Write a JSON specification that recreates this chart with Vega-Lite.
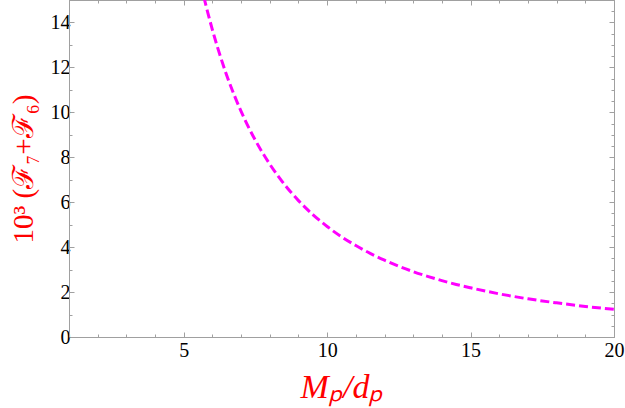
{
  "$schema": "https://vega.github.io/schema/vega-lite/v6.json",
  "width": 545,
  "height": 337,
  "autosize": {"type": "none"},
  "padding": {"left": 69, "top": 0, "right": 11, "bottom": 71},
  "background": "white",
  "config": {
    "view": {"stroke": "#a0a0a0", "strokeWidth": 1},
    "style": {
      "guide-label": {"font": "Liberation Serif", "fontSize": 20, "fill": "black"},
      "guide-title": {"font": "Liberation Serif", "fill": "red", "fontWeight": "normal"}
    },
    "axis": {
      "domainColor": "#a0a0a0",
      "tickColor": "#a0a0a0",
      "grid": false,
      "labelFont": "Liberation Serif, serif",
      "labelFontSize": 20,
      "labelColor": "black",
      "titleFont": "Liberation Serif",
      "titleColor": "red",
      "titleFontWeight": "normal"
    }
  },
  "data": {
    "values": [
      {"x": 5.70, "y": 15.14},
      {"x": 5.80, "y": 14.63},
      {"x": 6.00, "y": 13.67},
      {"x": 6.25, "y": 12.60},
      {"x": 6.50, "y": 11.64},
      {"x": 6.75, "y": 10.80},
      {"x": 7.00, "y": 10.04},
      {"x": 7.50, "y": 8.75},
      {"x": 8.00, "y": 7.69},
      {"x": 8.50, "y": 6.81},
      {"x": 9.00, "y": 6.07},
      {"x": 9.50, "y": 5.45},
      {"x": 10.0, "y": 4.92},
      {"x": 10.5, "y": 4.46},
      {"x": 11.0, "y": 4.07},
      {"x": 11.5, "y": 3.72},
      {"x": 12.0, "y": 3.42},
      {"x": 12.5, "y": 3.15},
      {"x": 13.0, "y": 2.91},
      {"x": 13.5, "y": 2.70},
      {"x": 14.0, "y": 2.51},
      {"x": 14.5, "y": 2.34},
      {"x": 15.0, "y": 2.19},
      {"x": 16.0, "y": 1.92},
      {"x": 17.0, "y": 1.70},
      {"x": 18.0, "y": 1.52},
      {"x": 19.0, "y": 1.36},
      {"x": 20.0, "y": 1.23}
    ]
  },
  "layer": [
    {
      "mark": {"type": "line", "color": "#ff00ff", "strokeWidth": 3, "strokeDash": [9, 4], "clip": true, "interpolate": "monotone"},
      "encoding": {
        "x": {
          "field": "x", "type": "quantitative",
          "scale": {"domain": [1, 20], "nice": false, "zero": false},
          "axis": {
            "orient": "bottom",
            "title": "Mₚ/dₚ",
            "titleFont": "Liberation Serif",
            "titleFontSize": 34,
            "titleFontStyle": "italic",
            "titlePadding": 8,
            "values": [1,2,3,4,5,6,7,8,9,10,11,12,13,14,15,16,17,18,19,20],
            "format": "d",
            "labelExpr": "datum.value % 5 == 0 ? datum.label : ''",
            "labelFont": "Liberation Serif, serif",
            "labelFontSize": 20,
            "labelFlush": false,
            "labelOverlap": false,
            "labelPadding": 8,
            "tickSize": {"condition": {"test": "datum.value % 5 == 0", "value": -5}, "value": -3}
          }
        },
        "y": {
          "field": "y", "type": "quantitative",
          "scale": {"domain": [0, 15], "nice": false},
          "axis": {
            "orient": "left",
            "title": "10³ (ℱ₇+ℱ₆)",
            "titleFont": "Liberation Serif",
            "titleFontSize": 29,
            "titlePadding": 12,
            "values": [0,0.5,1,1.5,2,2.5,3,3.5,4,4.5,5,5.5,6,6.5,7,7.5,8,8.5,9,9.5,10,10.5,11,11.5,12,12.5,13,13.5,14,14.5,15],
            "format": "d",
            "labelExpr": "datum.value % 2 == 0 ? datum.label : ''",
            "labelFont": "Liberation Serif, serif",
            "labelFontSize": 20,
            "labelOverlap": false,
            "labelBaseline": "middle",
            "labelPadding": 4,
            "tickSize": {"condition": {"test": "datum.value % 2 == 0", "value": -5}, "value": -3}
          }
        }
      }
    },
    {
      "mark": {"type": "line", "opacity": 0},
      "encoding": {
        "x": {
          "field": "x", "type": "quantitative",
          "axis": {
            "orient": "top",
            "title": null,
            "values": [1,2,3,4,5,6,7,8,9,10,11,12,13,14,15,16,17,18,19,20],
            "labels": false,
            "tickSize": {"condition": {"test": "datum.value % 5 == 0", "value": -5}, "value": -3}
          }
        },
        "y": {
          "field": "y", "type": "quantitative",
          "axis": {
            "orient": "right",
            "title": null,
            "values": [0,0.5,1,1.5,2,2.5,3,3.5,4,4.5,5,5.5,6,6.5,7,7.5,8,8.5,9,9.5,10,10.5,11,11.5,12,12.5,13,13.5,14,14.5,15],
            "labels": false,
            "tickSize": {"condition": {"test": "datum.value % 2 == 0", "value": -5}, "value": -3}
          }
        }
      }
    }
  ],
  "resolve": {"axis": {"x": "independent", "y": "independent"}}
}
